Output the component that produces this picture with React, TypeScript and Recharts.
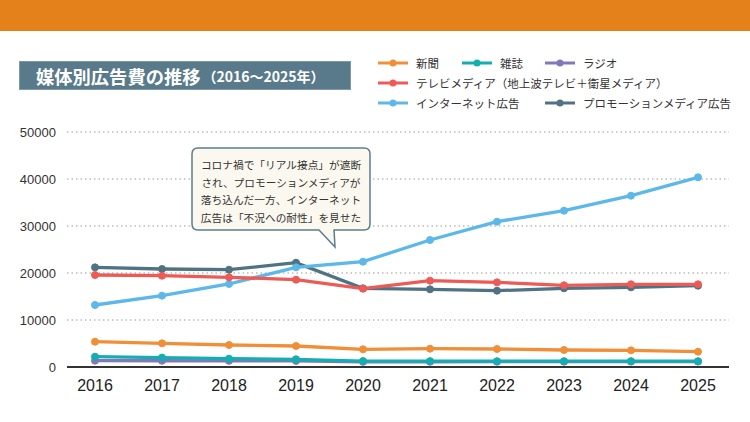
import React from 'react';
import { LineChart, Line, XAxis, YAxis, CartesianGrid } from 'recharts';

// 媒体別広告費（億円）
const years = ['2016', '2017', '2018', '2019', '2020', '2021', '2022', '2023', '2024', '2025'];
const newspaper = [5390, 5040, 4680, 4470, 3760, 3900, 3830, 3620, 3540, 3260];
const magazine = [2200, 2000, 1780, 1640, 1260, 1250, 1230, 1240, 1240, 1230];
const radio = [1350, 1330, 1310, 1290, 1100, 1120, 1130, 1140, 1150, 1150];
const tv = [19570, 19430, 19080, 18580, 16670, 18370, 18010, 17380, 17590, 17590];
const internet = [13190, 15180, 17660, 21200, 22410, 27020, 30920, 33260, 36450, 40360];
const promotion = [21200, 20850, 20700, 22200, 16740, 16530, 16240, 16740, 16950, 17300];
const yTicks = [0, 10000, 20000, 30000, 40000, 50000];

const series = [
  { key: 'newspaper', name: '新聞', color: '#f08f38', values: newspaper },
  { key: 'magazine', name: '雑誌', color: '#14aeb1', values: magazine },
  { key: 'radio', name: 'ラジオ', color: '#7f78b9', values: radio },
  { key: 'tv', name: 'テレビメディア（地上波テレビ＋衛星メディア）', color: '#ec5b55', values: tv },
  { key: 'internet', name: 'インターネット広告', color: '#5bb8e9', values: internet },
  { key: 'promotion', name: 'プロモーションメディア広告', color: '#4f7383', values: promotion },
];

// draw order (later = on top)
const drawOrder = ['radio', 'magazine', 'newspaper', 'promotion', 'internet', 'tv'];

const data = years.map((year, i) => {
  const row: Record<string, string | number> = { year };
  series.forEach((s) => {
    row[s.key] = s.values[i];
  });
  return row;
});

const jpFont = '"Noto Sans CJK JP", "Noto Sans", sans-serif';
const numFont = '"Liberation Sans", Arial, sans-serif';

// legend grid placement: [column, span, row]
const legendPlace: Record<string, [number, number, number]> = {
  newspaper: [1, 1, 1],
  magazine: [2, 1, 1],
  radio: [3, 1, 1],
  tv: [1, 3, 2],
  internet: [1, 2, 3],
  promotion: [3, 1, 3],
};

const ChartLegend = () => (
  <div
    style={{
      position: 'absolute',
      left: 378,
      top: 53,
      display: 'grid',
      gridTemplateColumns: '84px 83px auto',
      gridAutoRows: '20px',
      fontFamily: jpFont,
      fontSize: 11.5,
      color: '#333',
    }}
  >
    {series.map((s) => {
      const [col, span, row] = legendPlace[s.key];
      return (
        <div
          key={s.key}
          style={{
            gridColumn: `${col} / span ${span}`,
            gridRow: row,
            display: 'flex',
            alignItems: 'center',
            whiteSpace: 'nowrap',
          }}
        >
          <svg width={30} height={10} style={{ marginRight: 8 }}>
            <line x1={0} y1={5} x2={30} y2={5} stroke={s.color} strokeWidth={3} />
            <circle cx={15} cy={5} r={3.5} fill={s.color} />
          </svg>
          <span>{s.name}</span>
        </div>
      );
    })}
  </div>
);

const App = () => {
  return (
    <div style={{ position: 'absolute', left: 0, top: 0, width: 750, height: 422, background: '#fff', overflow: 'hidden' }}>
      <div style={{ position: 'absolute', left: 0, top: 0, width: 750, height: 31, background: '#e5811b' }} />
      <div
        style={{
          position: 'absolute',
          left: 19,
          top: 61,
          width: 332,
          height: 29,
          background: '#587a8b',
          boxSizing: 'border-box',
          border: '1px solid #7d98a6',
          color: '#fff',
          fontFamily: jpFont,
          display: 'flex',
          alignItems: 'center',
          paddingLeft: 16,
          whiteSpace: 'nowrap',
        }}
      >
        <span style={{ fontSize: 18.3, fontWeight: 700 }}>媒体別広告費の推移</span>
        <span style={{ fontSize: 14, fontWeight: 700, marginLeft: 2 }}>（2016～2025年）</span>
      </div>

      <div style={{ position: 'absolute', left: 0, top: 0 }}>
        <LineChart
          width={750}
          height={422}
          data={data}
          margin={{ top: 132, right: 21, bottom: 25, left: 0 }}
        >
          <CartesianGrid vertical={false} stroke="#9a9a9a" strokeDasharray="1.5 3" strokeWidth={1.2} />
          <XAxis
            dataKey="year"
            height={30}
            padding={{ left: 28, right: 31 }}
            axisLine={{ stroke: '#333', strokeWidth: 2 }}
            tickLine={false}
            tickSize={6}
            tickMargin={7}
            tick={{ fill: '#222', fontSize: 16, fontFamily: numFont }}
          />
          <YAxis
            width={67}
            domain={[0, 50000]}
            ticks={yTicks}
            axisLine={false}
            tickLine={false}
            tickSize={6}
            tickMargin={5}
            tick={{ fill: '#333', fontSize: 13, fontFamily: numFont }}
          />
          {drawOrder.map((k) => {
            const s = series.find((x) => x.key === k)!;
            return (
              <Line
                key={s.key}
                type="linear"
                dataKey={s.key}
                name={s.name}
                stroke={s.color}
                strokeWidth={3.3}
                dot={{ r: 3.5, fill: s.color, stroke: s.color, strokeWidth: 1 }}
                activeDot={false}
                isAnimationActive={false}
              />
            );
          })}
        </LineChart>
      </div>

      <ChartLegend />

      <svg width={750} height={422} style={{ position: 'absolute', left: 0, top: 0, pointerEvents: 'none' }}>
        <path
          d="M198 148 H364 Q370 148 370 154 V224 Q370 230 364 230 H334 L335 247 L319 230 H198 Q192 230 192 224 V154 Q192 148 198 148 Z"
          fill="#fbf8ef"
          stroke="#5b7d8e"
          strokeWidth={1.5}
        />
        <g fontFamily={jpFont} fontSize={10.7} fill="#333" textAnchor="middle">
          <text x={281} y={169}>コロナ禍で「リアル接点」が遮断</text>
          <text x={281} y={186.5}>され、プロモーションメディアが</text>
          <text x={281} y={204}>落ち込んだ一方、インターネット</text>
          <text x={281} y={221.5}>広告は「不況への耐性」を見せた</text>
        </g>
      </svg>
    </div>
  );
};

export default App;
